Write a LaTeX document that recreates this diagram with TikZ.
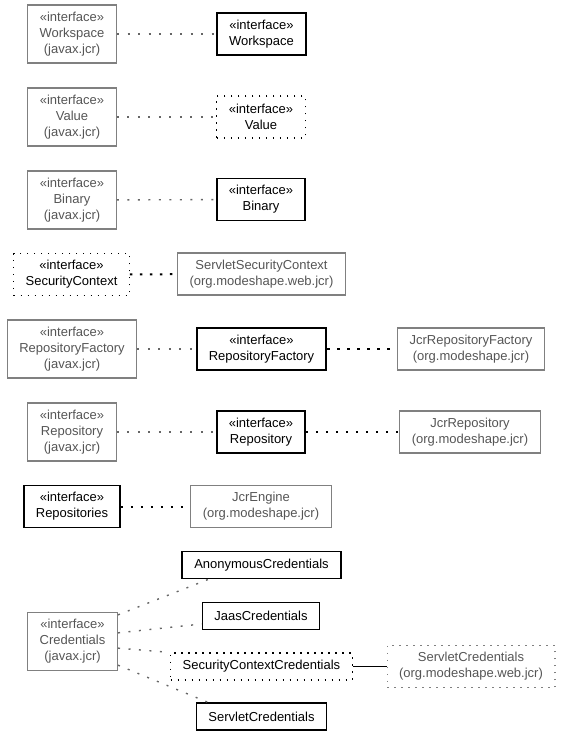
\documentclass[tikz,border=0pt]{standalone}
\usepackage{fontspec}
\setmainfont{Liberation Sans}
\usetikzlibrary{positioning, calc}
\definecolor{jcrline}{HTML}{808080}
\definecolor{jcrtext}{HTML}{555555}
\definecolor{dotgray}{HTML}{666666}
\tikzset{
  apibox/.style={
    draw=jcrline,
    line width=1.3pt,
    rectangle,
    text=jcrtext,
    align=center,
    inner xsep=12pt,
    minimum width=86pt,
    minimum height=58pt
  },
  implbox/.style={
    apibox,
    minimum height=42pt
  },
  ifacebox/.style={
    draw=black,
    line width=1.6pt,
    rectangle,
    align=center,
    inner xsep=12pt,
    minimum width=86pt,
    minimum height=42pt
  },
  classbox/.style={
    ifacebox,
    minimum height=27pt
  },
  dottedbox/.style={
    line width=1.2pt,
    dash pattern=on 1.5pt off 5.5pt
  },
  uses/.style={
    draw=dotgray,
    line width=1.4pt,
    dash pattern=on 2pt off 8.5pt
  },
  implements/.style={
    draw=black,
    line width=2pt,
    dash pattern=on 2.5pt off 7.5pt
  }
}

\begin{document}
\begin{tikzpicture}[x=1pt, y=-1pt, font=\fontsize{13}{16}\selectfont]
        \useasboundingbox (0,0) rectangle (563,736);
        % javax.jcr interfaces
        \node[apibox] (wsjcr) at (72,34) {«interface»\\Workspace\\(javax.jcr)};
        \node[apibox] (valjcr) at (72,117) {«interface»\\Value\\(javax.jcr)};
        \node[apibox] (binjcr) at (72,200) {«interface»\\Binary\\(javax.jcr)};
        \node[ifacebox, dottedbox] (secctx) at (71.5,274.5) {«interface»\\SecurityContext};
        \node[apibox] (rfjcr) at (72,349) {«interface»\\RepositoryFactory\\(javax.jcr)};
        \node[apibox] (repjcr) at (72,432) {«interface»\\Repository\\(javax.jcr)};
        \node[ifacebox] (repos) at (72,506.5) {«interface»\\Repositories};
        \node[apibox] (credjcr) at (72.5,641.5) {«interface»\\Credentials\\(javax.jcr)};

        % middle column
        \node[ifacebox] (ws) at (261.5,34) {«interface»\\Workspace};
        \node[ifacebox, dottedbox] (val) at (261,117) {«interface»\\Value};
        \node[ifacebox] (bin) at (261,199.5) {«interface»\\Binary};
        \node[implbox] (servsec) at (261.5,274) {ServletSecurityContext\\(org.modeshape.web.jcr)};
        \node[ifacebox] (rf) at (261.5,349) {«interface»\\RepositoryFactory};
        \node[ifacebox] (rep) at (261,432) {«interface»\\Repository};
        \node[implbox] (engine) at (261,506.5) {JcrEngine\\(org.modeshape.jcr)};
        \node[classbox] (anon) at (261.5,565) {AnonymousCredentials};
        \node[classbox] (jaas) at (261,616) {JaasCredentials};
        \node[classbox, dottedbox] (scc) at (261.5,666.5) {SecurityContextCredentials};
        \node[classbox] (servcred) at (261.5,716.5) {ServletCredentials};

        % modeshape classes
        \node[implbox] (jcrrf) at (471,349) {JcrRepositoryFactory\\(org.modeshape.jcr)};
        \node[implbox] (jcrrep) at (470,432) {JcrRepository\\(org.modeshape.jcr)};
        \node[implbox, dottedbox] (servcredweb) at (471,666.5) {ServletCredentials\\(org.modeshape.web.jcr)};

        \draw[uses] (wsjcr) -- (ws);
        \draw[uses] (valjcr) -- (val);
        \draw[uses] (binjcr) -- (bin);
        \draw[implements] (secctx) -- (servsec);
        \draw[uses] (rfjcr) -- (rf);
        \draw[implements] (rf) -- (jcrrf);
        \draw[uses] (repjcr) -- (rep);
        \draw[implements] (rep) -- (jcrrep);
        \draw[implements] (repos) -- (engine);

        % credentials
        \draw[uses] ([yshift=-3pt]credjcr.north east) -- ([xshift=27pt]anon.south west);
        \draw[uses] ([yshift=-21pt]credjcr.north east) -- ([yshift=-8pt]jaas.west);
        \draw[uses] ([yshift=23pt]credjcr.south east) -- (scc.north west);
        \draw[uses] ([yshift=6pt]credjcr.south east) -- ([xshift=12pt]servcred.north west);
        \draw[line width=1.3pt] (scc) -- (servcredweb);
      \end{tikzpicture}
\end{document}
